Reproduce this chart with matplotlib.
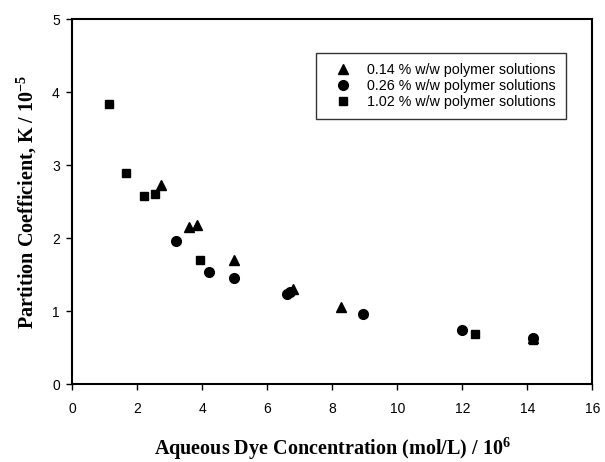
import matplotlib
matplotlib.use("Agg")
import matplotlib.pyplot as plt

# ─── Data ────────────────────────────────────────────────────────────────────
x_014 = [2.74, 3.60, 3.85, 4.98, 6.78, 8.28, 14.18]
k_014 = [2.73, 2.16, 2.19, 1.71, 1.30, 1.06, 0.64]

x_026 = [3.20, 4.21, 4.98, 6.60, 6.70, 8.94, 11.99, 14.18]
k_026 = [1.96, 1.54, 1.46, 1.24, 1.27, 0.97, 0.75, 0.63]

x_102 = [1.12, 1.65, 2.20, 2.53, 3.94, 12.39, 14.19]
k_102 = [3.84, 2.89, 2.58, 2.61, 1.71, 0.69, 0.61]

labels = ["0.14 % w/w polymer solutions",
          "0.26 % w/w polymer solutions",
          "1.02 % w/w polymer solutions"]

x_ticks = list(range(0, 17, 2))
y_ticks = list(range(0, 6))

# ─── Fonts ───────────────────────────────────────────────────────────────────
plt.rcParams["font.family"] = ["Liberation Sans", "DejaVu Sans"]
plt.rcParams["mathtext.fontset"] = "custom"
plt.rcParams["mathtext.bf"] = "Liberation Serif:bold"
plt.rcParams["mathtext.rm"] = "Liberation Serif:bold"
serif = ["Liberation Serif", "DejaVu Serif"]

# ─── Figure ──────────────────────────────────────────────────────────────────
fig = plt.figure(figsize=(6.05, 4.62), dpi=100)
ax = fig.add_axes([0.1195, 0.168, 0.8595, 0.790])

ax.plot(x_014, k_014, "^", color="black", markersize=7, label=labels[0])
ax.plot(x_026, k_026, "o", color="black", markersize=7, label=labels[1])
ax.plot(x_102, k_102, "s", color="black", markersize=6, label=labels[2])

ax.set_xlim(0, 16)
ax.set_ylim(0, 5)
ax.set_xticks(x_ticks)
ax.set_yticks(y_ticks)
ax.tick_params(direction="out", length=4, width=1, labelsize=10, pad=5)
ax.tick_params(axis="x", pad=9)
for sp in ax.spines.values():
    sp.set_linewidth(1.5)

ax.set_xlabel(r"Aqueous Dye Concentration (mol/L) / 10$^{\mathbf{6}}$",
              fontsize=14.5, fontweight="bold", family=serif)
ax.xaxis.set_label_coords(0.5, -0.192)
ax.xaxis.label.set_va("baseline")

ax.set_ylabel(r"Partition Coefficient, K / 10$^{\mathbf{-5}}$",
              fontsize=14.5, fontweight="bold", family=serif)
ax.yaxis.set_label_coords(-0.0756, 0.5)
ax.yaxis.label.set_va("baseline")

leg = ax.legend(loc="upper right", bbox_to_anchor=(0.949, 0.9085),
                borderaxespad=0, fontsize=10.3, frameon=True, fancybox=False,
                borderpad=0.7, handletextpad=0.53, labelspacing=0.14,
                handlelength=2.34)
leg.get_frame().set_edgecolor("black")
leg.get_frame().set_linewidth(1.0)

fig.savefig("out.png", dpi=100)
